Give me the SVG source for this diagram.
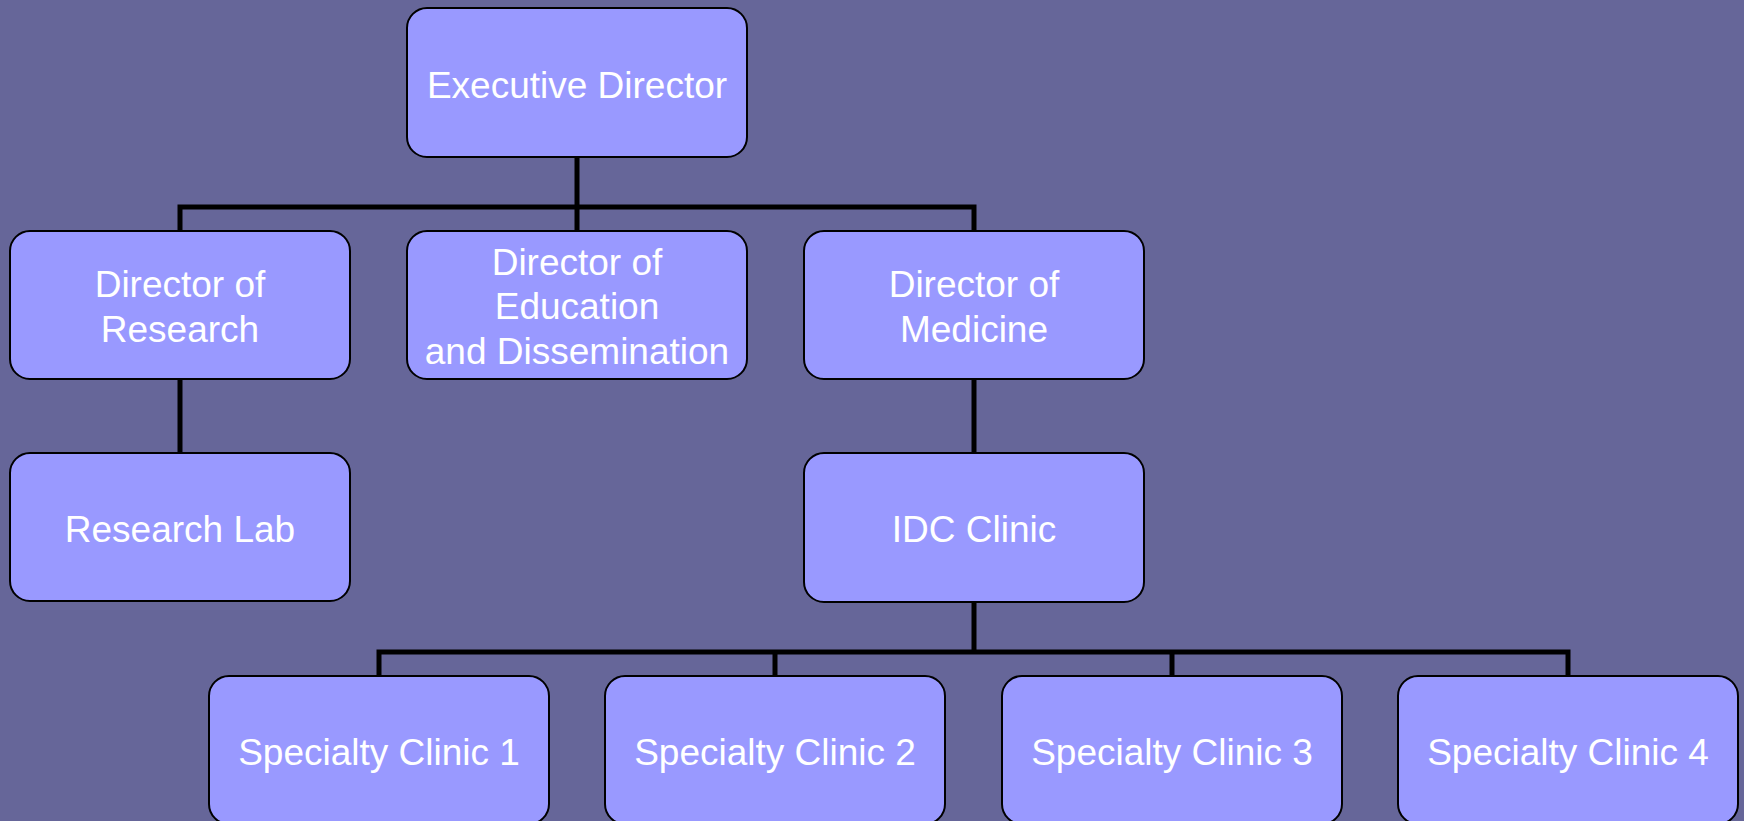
<svg xmlns="http://www.w3.org/2000/svg" width="1744" height="821" viewBox="0 0 1744 821">
  <style>
    .box { fill: #9999ff; stroke: #000; stroke-width: 2; }
    .lbl { fill: #fff; font-family: "Liberation Sans", Arial, sans-serif; font-size: 37px; text-anchor: middle; }
    .wire { fill: none; stroke: #000; stroke-width: 5; stroke-linejoin: miter; stroke-linecap: square; }
  </style>
  <rect width="1744" height="821" fill="#666699"/>

  <g id="connectors">
    <path class="wire" d="M577 157 V207 M180 231 V207 H974 V231 M577 207 V231"/>
    <path class="wire" d="M180 379 V453"/>
    <path class="wire" d="M974 379 V453"/>
    <path class="wire" d="M974 602 V652 M379 676 V652 H1568 V676 M775 652 V676 M1172 652 V676"/>
  </g>

  <g id="executive-director">
    <rect class="box" x="407" y="8" width="340" height="149" rx="20"/>
    <text class="lbl" x="577" y="98">Executive Director</text>
  </g>

  <g id="director-research">
    <rect class="box" x="10" y="231" width="340" height="148" rx="20"/>
    <text class="lbl" x="180" y="297">Director of</text>
    <text class="lbl" x="180" y="342">Research</text>
  </g>

  <g id="director-education">
    <rect class="box" x="407" y="231" width="340" height="148" rx="20"/>
    <text class="lbl" x="577" y="275">Director of</text>
    <text class="lbl" x="577" y="319">Education</text>
    <text class="lbl" x="577" y="364">and Dissemination</text>
  </g>

  <g id="director-medicine">
    <rect class="box" x="804" y="231" width="340" height="148" rx="20"/>
    <text class="lbl" x="974" y="297">Director of</text>
    <text class="lbl" x="974" y="342">Medicine</text>
  </g>

  <g id="research-lab">
    <rect class="box" x="10" y="453" width="340" height="148" rx="20"/>
    <text class="lbl" x="180" y="542">Research Lab</text>
  </g>

  <g id="idc-clinic">
    <rect class="box" x="804" y="453" width="340" height="149" rx="20"/>
    <text class="lbl" x="974" y="542">IDC Clinic</text>
  </g>

  <g id="specialty-clinic-1">
    <rect class="box" x="209" y="676" width="340" height="148" rx="20"/>
    <text class="lbl" x="379" y="765">Specialty Clinic 1</text>
  </g>

  <g id="specialty-clinic-2">
    <rect class="box" x="605" y="676" width="340" height="148" rx="20"/>
    <text class="lbl" x="775" y="765">Specialty Clinic 2</text>
  </g>

  <g id="specialty-clinic-3">
    <rect class="box" x="1002" y="676" width="340" height="148" rx="20"/>
    <text class="lbl" x="1172" y="765">Specialty Clinic 3</text>
  </g>

  <g id="specialty-clinic-4">
    <rect class="box" x="1398" y="676" width="340" height="148" rx="20"/>
    <text class="lbl" x="1568" y="765">Specialty Clinic 4</text>
  </g>
</svg>
